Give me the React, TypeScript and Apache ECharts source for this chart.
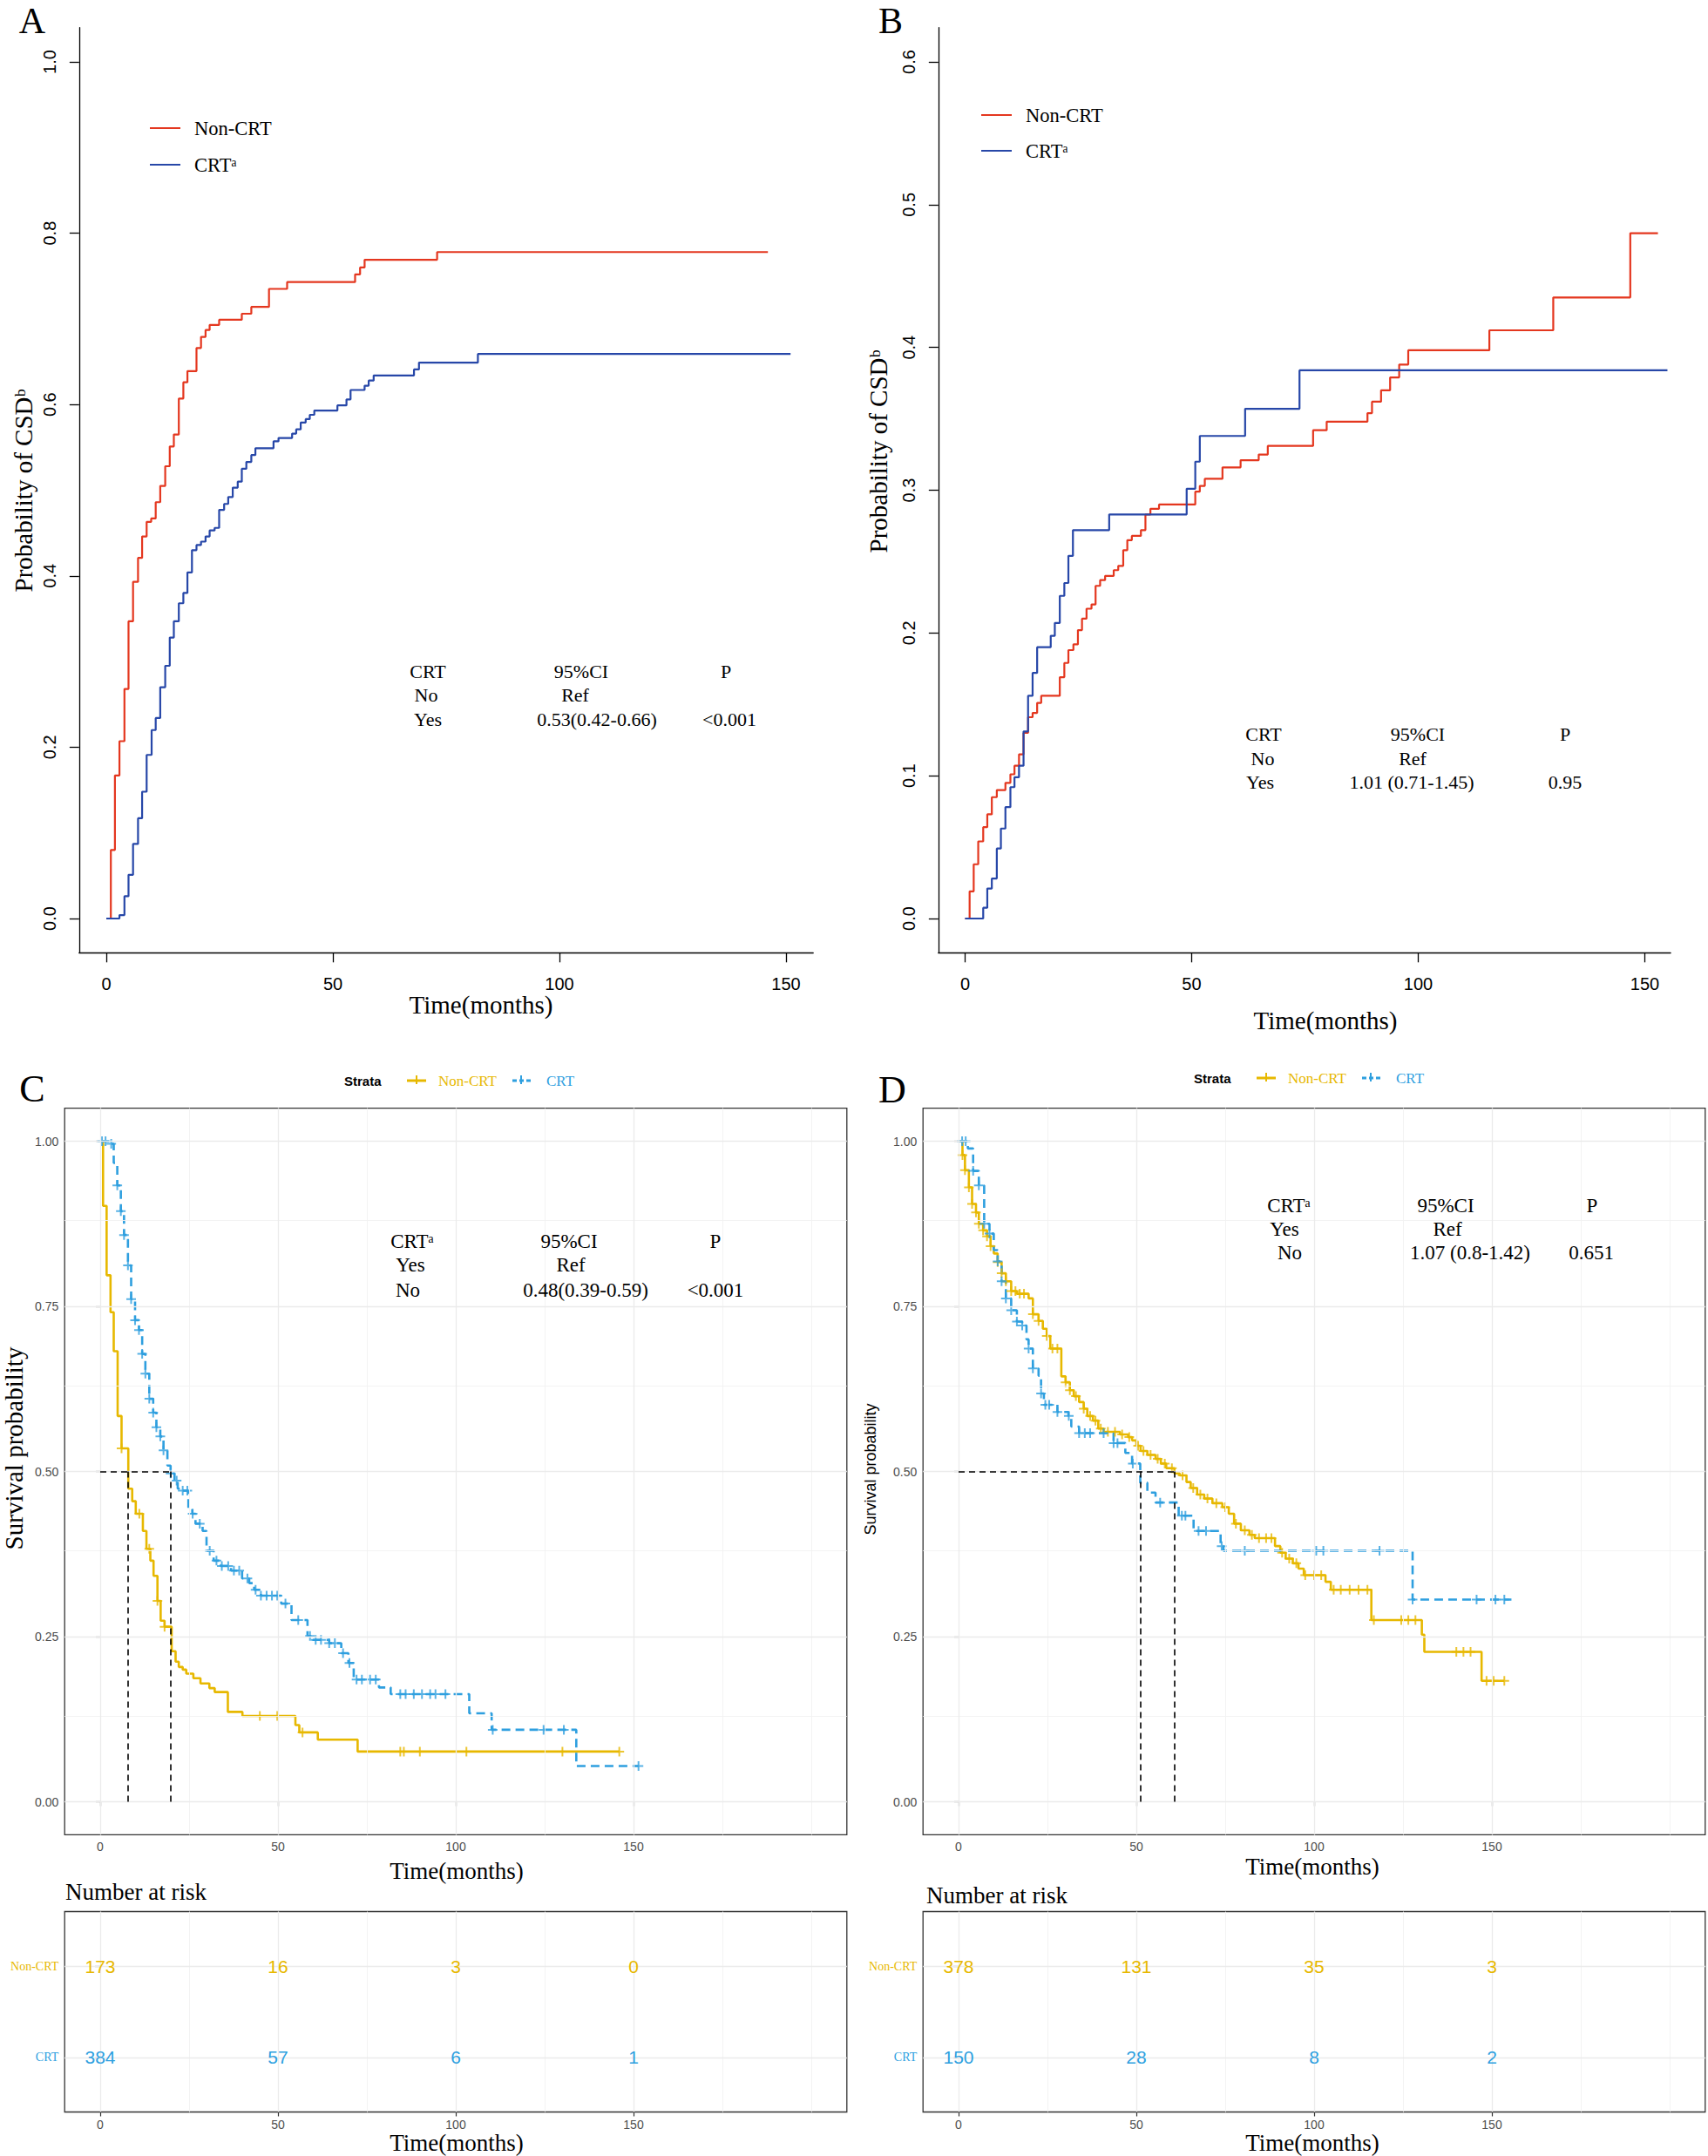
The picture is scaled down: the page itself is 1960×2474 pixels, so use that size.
import React, { useEffect, useRef } from "react";
import * as echarts from "echarts";

const W = 1960;
const H = 2474;
const RED = "#E4371F";
const NAVY = "#2747A8";
const GOLD = "#E7B800";
const SKY = "#2E9FDF";
const SERIF = '"Liberation Serif", "Times New Roman", "DejaVu Serif", serif';
const SANS = '"Liberation Sans", Arial, "DejaVu Sans", sans-serif';

// ---------- tick values ----------
const X_TICKS = [0, 50, 100, 150];
const A_Y_TICKS = [0, 0.2, 0.4, 0.6, 0.8, 1.0];
const B_Y_TICKS = [0, 0.1, 0.2, 0.3, 0.4, 0.5, 0.6];
const KM_Y_TICKS = [0, 0.25, 0.5, 0.75, 1];
const GRID_X_MAJOR = [0, 50, 100, 150];
const GRID_X_MINOR = [25, 75, 125, 175, 200];
const GRID_Y_MAJOR = [0, 0.25, 0.5, 0.75, 1];
const GRID_Y_MINOR = [0.125, 0.375, 0.625, 0.875];

// ---------- Panel A: cumulative incidence of CSD ----------
const A_NON_T = [0, 1, 1.9, 2.9, 4.0, 4.9, 5.9, 7.0, 7.9, 8.9, 9.9, 10.9, 11.9, 13.0, 14.0, 14.9, 16.0, 17.0, 17.9, 19.9, 20.9, 21.9, 22.8, 24.9, 29.9, 32.0, 35.9, 39.9, 54.9, 56.0, 57.0, 73.0, 146];
const A_NON_P = [0, 0.080, 0.167, 0.207, 0.268, 0.347, 0.393, 0.421, 0.446, 0.463, 0.467, 0.486, 0.505, 0.528, 0.551, 0.565, 0.607, 0.626, 0.639, 0.666, 0.679, 0.687, 0.693, 0.699, 0.706, 0.714, 0.735, 0.743, 0.752, 0.760, 0.769, 0.778, 0.778];
const A_CRT_T = [0, 2.9, 4.0, 4.9, 5.9, 7.0, 7.9, 8.9, 10.0, 10.9, 11.9, 13.0, 14.0, 14.9, 16.0, 17.0, 17.9, 18.9, 19.9, 20.9, 21.9, 22.8, 23.9, 24.9, 26.0, 26.9, 27.9, 29.0, 29.9, 30.9, 32.0, 32.9, 36.9, 38.0, 41.0, 41.9, 42.9, 44.0, 44.9, 45.9, 51.0, 53.0, 53.9, 57.0, 57.9, 59.0, 67.9, 69.0, 82.0, 151];
const A_CRT_P = [0, 0.004, 0.026, 0.051, 0.087, 0.117, 0.148, 0.191, 0.220, 0.234, 0.270, 0.295, 0.328, 0.347, 0.368, 0.380, 0.404, 0.430, 0.436, 0.440, 0.446, 0.453, 0.456, 0.477, 0.484, 0.492, 0.503, 0.510, 0.525, 0.533, 0.541, 0.549, 0.557, 0.561, 0.566, 0.571, 0.579, 0.583, 0.588, 0.593, 0.599, 0.606, 0.617, 0.622, 0.628, 0.634, 0.641, 0.649, 0.659, 0.659];

// ---------- Panel B ----------
const B_NON_T = [0, 1.0, 1.9, 2.9, 4.0, 4.9, 5.9, 7.0, 8.9, 10.0, 10.9, 11.9, 12.9, 13.9, 14.9, 15.9, 16.8, 20.9, 21.9, 22.8, 23.9, 24.9, 25.8, 26.8, 27.9, 28.8, 29.8, 30.9, 32.8, 33.8, 34.9, 35.8, 36.8, 38.8, 39.8, 40.9, 42.8, 50.8, 51.8, 52.9, 56.8, 60.8, 64.8, 66.8, 76.8, 79.8, 88.8, 89.8, 91.8, 93.8, 95.8, 97.8, 115.7, 129.8, 146.8, 152.9];
const B_NON_P = [0, 0.019, 0.038, 0.054, 0.064, 0.073, 0.085, 0.090, 0.095, 0.101, 0.107, 0.115, 0.130, 0.141, 0.144, 0.151, 0.156, 0.169, 0.179, 0.188, 0.192, 0.202, 0.210, 0.217, 0.220, 0.233, 0.237, 0.240, 0.244, 0.247, 0.258, 0.265, 0.268, 0.272, 0.283, 0.287, 0.290, 0.299, 0.303, 0.308, 0.316, 0.321, 0.325, 0.331, 0.342, 0.348, 0.354, 0.362, 0.370, 0.379, 0.388, 0.398, 0.412, 0.435, 0.480, 0.480];
const B_CRT_T = [0, 4.0, 4.9, 5.9, 7.0, 7.9, 8.9, 10.0, 10.9, 11.9, 12.9, 13.9, 14.9, 15.9, 18.9, 19.8, 20.9, 21.9, 22.8, 23.8, 31.8, 48.9, 50.8, 51.8, 61.8, 73.8, 155];
const B_CRT_P = [0, 0.0075, 0.021, 0.028, 0.049, 0.063, 0.078, 0.092, 0.099, 0.107, 0.131, 0.156, 0.172, 0.190, 0.198, 0.207, 0.226, 0.235, 0.254, 0.272, 0.283, 0.301, 0.320, 0.338, 0.357, 0.384, 0.384];

// ---------- Panel C: survival ----------
const C_NON_T = [0, 0.8, 1.8, 2.9, 3.8, 4.9, 6.0, 7.9, 9.0, 10.0, 12.0, 13.0, 14.1, 15.0, 16.1, 17.0, 18.1, 20.1, 21.2, 22.1, 23.2, 24.2, 26.2, 28.2, 30.7, 32.2, 35.9, 40.0, 54.9, 56.0, 61.2, 72.4, 146];
const C_NON_S = [1, 0.902, 0.797, 0.741, 0.682, 0.584, 0.535, 0.474, 0.455, 0.436, 0.410, 0.383, 0.365, 0.342, 0.304, 0.274, 0.265, 0.228, 0.212, 0.204, 0.200, 0.194, 0.187, 0.179, 0.172, 0.166, 0.136, 0.130, 0.116, 0.105, 0.094, 0.076, 0.076];
const C_CRT_T = [0, 3.1, 3.8, 4.8, 5.8, 6.7, 7.8, 8.7, 9.8, 10.9, 11.8, 12.7, 13.8, 14.9, 15.8, 16.9, 17.8, 18.9, 19.8, 20.9, 21.8, 23.0, 24.8, 25.9, 26.8, 28.8, 29.9, 31.9, 33.9, 36.8, 39.9, 41.9, 43.3, 45.2, 50.9, 53.8, 58.3, 59.8, 64.4, 67.8, 69.8, 71.3, 78.4, 81.7, 103.8, 110.1, 133.9, 151.4];
const C_CRT_S = [1, 0.996, 0.967, 0.933, 0.894, 0.858, 0.812, 0.761, 0.729, 0.714, 0.678, 0.648, 0.610, 0.589, 0.567, 0.553, 0.532, 0.509, 0.497, 0.486, 0.474, 0.471, 0.444, 0.436, 0.421, 0.410, 0.380, 0.365, 0.357, 0.350, 0.338, 0.331, 0.321, 0.312, 0.300, 0.275, 0.251, 0.245, 0.240, 0.225, 0.210, 0.185, 0.173, 0.163, 0.134, 0.109, 0.054, 0.054];
const C_NON_CENS = [6.0, 11.0, 13.8, 16.1, 18.1, 44.9, 49.8, 56.9, 84.4, 85.4, 89.9, 103, 130, 146];
const C_CRT_CENS = [0.5, 1.5, 3.1, 4.8, 5.8, 6.7, 7.8, 8.7, 9.8, 10.9, 11.8, 12.7, 13.8, 14.9, 15.8, 16.9, 17.8, 19.8, 21.5, 23.2, 24.5, 26.0, 28.0, 30.8, 32.7, 34.2, 36.0, 37.6, 39.1, 41.4, 43.7, 45.2, 46.8, 48.3, 49.8, 52.1, 55.7, 59.0, 60.6, 62.1, 64.4, 66.0, 68.3, 70.1, 72.1, 73.6, 75.9, 77.5, 84.4, 85.9, 88.2, 90.5, 92.8, 94.3, 97.1, 110.4, 124.7, 130.4, 151.4];

// ---------- Panel D ----------
const D_NON_T = [0, 1.1, 1.8, 2.9, 3.8, 4.9, 5.7, 6.9, 8.0, 9.0, 9.9, 11.0, 12.1, 13.3, 14.8, 16.4, 19.7, 20.9, 22.5, 23.7, 24.8, 25.8, 28.9, 30.1, 31.3, 32.4, 33.9, 35.2, 36.2, 37.8, 39.3, 40.8, 45.4, 47.7, 48.8, 50.0, 51.2, 53.1, 55.4, 56.9, 58.4, 60.7, 62.2, 64.1, 65.3, 67.1, 69.1, 71.4, 74.2, 76.0, 77.5, 79.4, 81.8, 83.3, 89.0, 90.5, 92.0, 94.0, 95.6, 97.1, 103.2, 104.7, 116.1, 130.3, 131.0, 147.1, 153.5];
const D_NON_S = [1, 0.979, 0.956, 0.930, 0.905, 0.892, 0.875, 0.865, 0.856, 0.841, 0.830, 0.817, 0.800, 0.788, 0.773, 0.769, 0.762, 0.738, 0.728, 0.716, 0.705, 0.686, 0.644, 0.635, 0.623, 0.614, 0.605, 0.595, 0.584, 0.577, 0.565, 0.560, 0.556, 0.552, 0.547, 0.539, 0.531, 0.525, 0.519, 0.512, 0.505, 0.497, 0.494, 0.484, 0.475, 0.465, 0.459, 0.452, 0.446, 0.436, 0.421, 0.411, 0.404, 0.399, 0.387, 0.377, 0.368, 0.361, 0.353, 0.343, 0.333, 0.321, 0.275, 0.253, 0.227, 0.183, 0.183];
const D_CRT_T = [0, 2.6, 4.1, 5.7, 7.2, 8.7, 9.9, 11.0, 12.1, 13.3, 14.8, 16.4, 17.9, 19.1, 19.7, 20.9, 22.5, 23.2, 24.0, 27.8, 30.9, 31.7, 33.9, 43.6, 46.9, 48.8, 51.1, 53.1, 55.4, 61.9, 66.1, 73.7, 74.5, 127.7, 155.5];
const D_CRT_S = [1, 0.989, 0.955, 0.933, 0.875, 0.860, 0.835, 0.818, 0.788, 0.762, 0.744, 0.727, 0.721, 0.700, 0.686, 0.656, 0.645, 0.618, 0.601, 0.590, 0.584, 0.568, 0.558, 0.543, 0.528, 0.512, 0.483, 0.468, 0.453, 0.433, 0.410, 0.387, 0.380, 0.306, 0.306];
const D_NON_CENS = [1.1, 1.8, 2.9, 3.8, 4.9, 5.7, 6.9, 8.0, 9.0, 11.0, 12.1, 13.3, 14.8, 16.0, 17.2, 18.4, 20.9, 22.5, 24.8, 26.4, 27.8, 30.1, 31.3, 33.0, 35.2, 37.0, 38.5, 40.0, 42.0, 44.0, 46.0, 48.0, 50.5, 52.0, 54.0, 56.0, 58.0, 60.0, 63.0, 66.0, 68.0, 70.0, 72.5, 75.0, 78.0, 80.5, 82.5, 84.5, 86.5, 88.0, 91.0, 93.0, 95.0, 97.5, 100.0, 102.0, 105.5, 107.5, 110.0, 112.5, 115.0, 116.8, 124.5, 126.5, 128.5, 140.0, 142.0, 144.0, 148.5, 150.5, 153.5];
const D_CRT_CENS = [1.0, 2.0, 4.1, 5.7, 7.2, 8.7, 11.0, 12.1, 13.3, 14.8, 16.4, 17.9, 19.7, 20.9, 23.2, 24.4, 25.5, 27.8, 31.0, 33.9, 35.5, 37.0, 40.8, 43.6, 44.7, 49.0, 56.7, 62.8, 63.8, 67.5, 69.6, 74.0, 80.5, 100.6, 102.6, 118.4, 127.7, 145.7, 151.0, 153.5];

// ---------- risk tables ----------
const RISK_TIMES = [0, 50, 100, 150];
const C_RISK_NON = [173, 16, 3, 0];
const C_RISK_CRT = [384, 57, 6, 1];
const D_RISK_NON = [378, 131, 35, 3];
const D_RISK_CRT = [150, 28, 8, 2];

const PLUS = "path://M0,5L10,5M5,0L5,10";

function pairs(t: number[], v: number[]) {
  return t.map((x, i) => [x, v[i]]);
}
function valueAt(t: number[], v: number[], x: number) {
  let y = v[0];
  for (let i = 0; i < t.length; i++) if (t[i] <= x) y = v[i];
  return y;
}
function median(t: number[], s: number[]) {
  for (let i = 0; i < t.length; i++) if (s[i] <= 0.5) return t[i];
  return t[t.length - 1];
}

function stepSeries(gi: number, t: number[], v: number[], color: string, width: number, dashed = false) {
  return {
    type: "line",
    xAxisIndex: gi,
    yAxisIndex: gi,
    data: pairs(t, v),
    step: "end",
    symbol: "none",
    showSymbol: false,
    silent: true,
    z: 3,
    lineStyle: { color, width, type: dashed ? [10, 6] : "solid", cap: "butt" },
  };
}
function censorSeries(gi: number, t: number[], v: number[], cens: number[], color: string) {
  return {
    type: "scatter",
    xAxisIndex: gi,
    yAxisIndex: gi,
    data: cens.map((c) => [c, valueAt(t, v, c)]),
    symbol: PLUS,
    symbolSize: 11,
    silent: true,
    z: 4,
    itemStyle: { color: "rgba(0,0,0,0)", borderColor: color, borderWidth: 2 },
  };
}
function gridLineSeries(gi: number, yMajor: number[], yMinor: number[]) {
  const major = { color: "#EBEBEB", width: 1.3, type: "solid" };
  const minor = { color: "#F2F2F2", width: 0.9, type: "solid" };
  return {
    type: "line",
    xAxisIndex: gi,
    yAxisIndex: gi,
    data: [[0, yMajor[0]]],
    symbol: "none",
    lineStyle: { width: 0, opacity: 0 },
    silent: true,
    z: 1,
    markLine: {
      silent: true,
      animation: false,
      symbol: ["none", "none"],
      label: { show: false },
      lineStyle: { type: "solid" },
      emphasis: { disabled: true },
      data: [
        ...GRID_X_MINOR.map((v) => ({ xAxis: v, lineStyle: minor })),
        ...yMinor.map((v) => ({ yAxis: v, lineStyle: minor })),
        ...GRID_X_MAJOR.map((v) => ({ xAxis: v, lineStyle: major })),
        ...yMajor.map((v) => ({ yAxis: v, lineStyle: major })),
      ],
    },
  };
}
function medianSeries(gi: number, m1: number, m2: number) {
  const hi = Math.max(m1, m2);
  return {
    type: "line",
    xAxisIndex: gi,
    yAxisIndex: gi,
    data: [[0, 0.5]],
    symbol: "none",
    lineStyle: { width: 0, opacity: 0 },
    silent: true,
    z: 5,
    markLine: {
      silent: true,
      animation: false,
      symbol: ["none", "none"],
      label: { show: false },
      emphasis: { disabled: true },
      lineStyle: { color: "#000", width: 1.6, type: [7, 5] },
      data: [
        [{ coord: [0, 0.5] }, { coord: [hi, 0.5] }],
        [{ coord: [m1, 0] }, { coord: [m1, 0.5] }],
        [{ coord: [m2, 0] }, { coord: [m2, 0.5] }],
      ],
    },
  };
}
function riskSeries(gi: number, row: number, counts: number[], color: string) {
  return {
    type: "scatter",
    xAxisIndex: gi,
    yAxisIndex: gi,
    data: RISK_TIMES.map((t, i) => [t, row, counts[i]]),
    symbol: "circle",
    symbolSize: 0.1,
    silent: true,
    z: 8,
    itemStyle: { color, opacity: 1 },
    label: {
      show: true,
      position: "inside",
      formatter: (p: any) => String(p.value[2]),
      color,
      opacity: 1,
      textBorderWidth: 0,
      fontFamily: SANS,
      fontSize: 21,
    },
  };
}

// ---------- axes ----------
function rX(gi: number, min: number, max: number) {
  return {
    type: "value",
    gridIndex: gi,
    min,
    max,
    axisLine: { show: true, onZero: false, lineStyle: { color: "#000", width: 1.3 } },
    axisTick: { show: true, customValues: X_TICKS, length: 11, lineStyle: { color: "#000", width: 1.3 } },
    axisLabel: { show: true, customValues: X_TICKS, fontFamily: SANS, fontSize: 20, color: "#000", margin: 26 },
    splitLine: { show: false },
  };
}
function rY(gi: number, min: number, max: number, ticks: number[]) {
  return {
    type: "value",
    gridIndex: gi,
    min,
    max,
    axisLine: { show: true, onZero: false, lineStyle: { color: "#000", width: 1.3 } },
    axisTick: { show: true, customValues: ticks, length: 11, lineStyle: { color: "#000", width: 1.3 } },
    axisLabel: {
      show: true,
      customValues: ticks,
      rotate: 90,
      formatter: (v: number) => v.toFixed(1),
      fontFamily: SANS,
      fontSize: 20,
      color: "#000",
      margin: 24,
    },
    splitLine: { show: false },
  };
}
function gX(gi: number) {
  return {
    type: "value",
    gridIndex: gi,
    min: -10,
    max: 210,
    axisLine: { show: false },
    axisTick: { show: true, customValues: X_TICKS, length: 5, lineStyle: { color: "#333", width: 1.2 } },
    axisLabel: { show: true, customValues: X_TICKS, fontFamily: SANS, fontSize: 14, color: "#4D4D4D", margin: 7 },
    splitLine: { show: false },
  };
}
function gY(gi: number) {
  return {
    type: "value",
    gridIndex: gi,
    min: -0.05,
    max: 1.05,
    axisLine: { show: false },
    axisTick: { show: true, customValues: KM_Y_TICKS, length: 5, lineStyle: { color: "#333", width: 1.2 } },
    axisLabel: {
      show: true,
      customValues: KM_Y_TICKS,
      formatter: (v: number) => v.toFixed(2),
      fontFamily: SANS,
      fontSize: 14,
      color: "#4D4D4D",
      margin: 7,
    },
    splitLine: { show: false },
  };
}
function riskY(gi: number) {
  return {
    type: "value",
    gridIndex: gi,
    min: 0.4,
    max: 2.6,
    axisLine: { show: false },
    axisTick: { show: true, customValues: [1, 2], length: 6, lineStyle: { color: "#333", width: 1.2 } },
    axisLabel: {
      show: true,
      customValues: [1, 2],
      formatter: (v: number) => (v === 2 ? "{g|Non-CRT}" : "{b|CRT}"),
      margin: 7,
      rich: {
        g: { color: GOLD, fontFamily: SERIF, fontSize: 14 },
        b: { color: SKY, fontFamily: SERIF, fontSize: 14 },
      },
    },
    splitLine: { show: false },
  };
}

// ---------- graphic helpers ----------
function txt(text: string, x: number, y: number, o: any = {}) {
  return {
    type: "text",
    x,
    y,
    rotation: o.rot || 0,
    silent: true,
    z: 10,
    style: {
      text,
      fill: o.color || "#000",
      fontFamily: o.family || SERIF,
      fontSize: o.size || 22,
      fontWeight: o.weight || "normal",
      textAlign: o.align || "center",
      textVerticalAlign: "middle",
      verticalAlign: "middle",
    },
  };
}
function seg(x1: number, y1: number, x2: number, y2: number, color: string, w: number, dash?: number[]) {
  return {
    type: "line",
    silent: true,
    z: 10,
    shape: { x1, y1, x2, y2 },
    style: { stroke: color, lineWidth: w, lineDash: dash || null },
  };
}
function kmLegend(dx: number, y: number) {
  return [
    txt("Strata", 395 + dx, y, { family: SANS, size: 15, weight: "bold", align: "left" }),
    seg(467 + dx, y, 489 + dx, y, GOLD, 3),
    seg(478 + dx, y - 6, 478 + dx, y + 4, GOLD, 2),
    txt("Non-CRT", 503 + dx, y, { color: GOLD, size: 17, align: "left" }),
    seg(588 + dx, y, 609 + dx, y, SKY, 3, [5, 3]),
    seg(598 + dx, y - 6, 598 + dx, y + 4, SKY, 2),
    txt("CRT", 627 + dx, y, { color: SKY, size: 17, align: "left" }),
  ];
}

function buildOption() {
  const gridBox = { show: true, borderColor: "#333333", borderWidth: 1.3, backgroundColor: "#fff" };
  const common = { containLabel: false, outerBoundsMode: "none" };
  const grids = [
    { ...common, left: 90.8, top: 31.7, width: 842.4, height: 1061.6 },
    { ...common, left: 1076.8, top: 31.7, width: 840.3, height: 1061.6 },
    { ...common, ...gridBox, left: 74.2, top: 1271.6, width: 897.6, height: 833.8 },
    { ...common, ...gridBox, left: 1059.2, top: 1271.6, width: 897.6, height: 833.8 },
    { ...common, ...gridBox, left: 74.2, top: 2193.5, width: 897.6, height: 230 },
    { ...common, ...gridBox, left: 1059.2, top: 2193.5, width: 897.6, height: 230 },
  ];
  const xAxis = [rX(0, -6, 156), rX(1, -5.9, 155.7), gX(2), gX(3), gX(4), gX(5)];
  const yAxis = [rY(0, -0.04, 1.04, A_Y_TICKS), rY(1, -0.024, 0.624, B_Y_TICKS), gY(2), gY(3), riskY(4), riskY(5)];

  const series: any[] = [
    stepSeries(0, A_NON_T, A_NON_P, RED, 2.2),
    stepSeries(0, A_CRT_T, A_CRT_P, NAVY, 2.2),
    stepSeries(1, B_NON_T, B_NON_P, RED, 2.2),
    stepSeries(1, B_CRT_T, B_CRT_P, NAVY, 2.2),

    gridLineSeries(2, GRID_Y_MAJOR, GRID_Y_MINOR),
    stepSeries(2, C_NON_T, C_NON_S, GOLD, 2.6),
    stepSeries(2, C_CRT_T, C_CRT_S, SKY, 2.6, true),
    censorSeries(2, C_NON_T, C_NON_S, C_NON_CENS, GOLD),
    censorSeries(2, C_CRT_T, C_CRT_S, C_CRT_CENS, SKY),
    medianSeries(2, median(C_NON_T, C_NON_S), median(C_CRT_T, C_CRT_S)),

    gridLineSeries(3, GRID_Y_MAJOR, GRID_Y_MINOR),
    stepSeries(3, D_NON_T, D_NON_S, GOLD, 2.6),
    stepSeries(3, D_CRT_T, D_CRT_S, SKY, 2.6, true),
    censorSeries(3, D_NON_T, D_NON_S, D_NON_CENS, GOLD),
    censorSeries(3, D_CRT_T, D_CRT_S, D_CRT_CENS, SKY),
    medianSeries(3, median(D_CRT_T, D_CRT_S), median(D_NON_T, D_NON_S)),

    gridLineSeries(4, [1, 2], []),
    riskSeries(4, 2, C_RISK_NON, GOLD),
    riskSeries(4, 1, C_RISK_CRT, SKY),
    gridLineSeries(5, [1, 2], []),
    riskSeries(5, 2, D_RISK_NON, GOLD),
    riskSeries(5, 1, D_RISK_CRT, SKY),
  ];

  const graphic: any[] = [
    // panel letters
    txt("A", 37, 24, { size: 42 }),
    txt("B", 1022, 24, { size: 42 }),
    txt("C", 37, 1249, { size: 44 }),
    txt("D", 1024, 1250, { size: 44 }),

    // axis titles A/B
    txt("Probability of CSDᵇ", 27, 563, { size: 29, rot: Math.PI / 2 }),
    txt("Time(months)", 552, 1153, { size: 29 }),
    txt("Probability of CSDᵇ", 1008, 518, { size: 29, rot: Math.PI / 2 }),
    txt("Time(months)", 1521, 1171, { size: 29 }),

    // legends A/B
    seg(172, 147, 207, 147, RED, 2.2),
    txt("Non-CRT", 223, 147, { size: 22.5, align: "left" }),
    seg(172, 189, 207, 189, NAVY, 2.2),
    txt("CRTᵃ", 223, 189, { size: 22.5, align: "left" }),
    seg(1126, 132, 1161, 132, RED, 2.2),
    txt("Non-CRT", 1177, 132, { size: 22.5, align: "left" }),
    seg(1126, 173, 1161, 173, NAVY, 2.2),
    txt("CRTᵃ", 1177, 173, { size: 22.5, align: "left" }),

    // stats A
    txt("CRT", 491, 770), txt("No", 489, 797), txt("Yes", 491, 825),
    txt("95%CI", 667, 770), txt("Ref", 660, 797), txt("0.53(0.42-0.66)", 685, 825),
    txt("P", 833, 770), txt("<0.001", 837, 825),
    // stats B
    txt("CRT", 1450, 842), txt("No", 1449, 870), txt("Yes", 1446, 897),
    txt("95%CI", 1627, 842), txt("Ref", 1621, 870), txt("1.01 (0.71-1.45)", 1620, 897),
    txt("P", 1796, 842), txt("0.95", 1796, 897),
    // stats C
    txt("CRTᵃ", 473, 1424, { size: 23 }), txt("Yes", 471, 1451, { size: 23 }), txt("No", 468, 1480, { size: 23 }),
    txt("95%CI", 653, 1424, { size: 23 }), txt("Ref", 655, 1451, { size: 23 }), txt("0.48(0.39-0.59)", 672, 1480, { size: 23 }),
    txt("P", 821, 1424, { size: 23 }), txt("<0.001", 821, 1480, { size: 23 }),
    // stats D
    txt("CRTᵃ", 1479, 1383, { size: 23 }), txt("Yes", 1474, 1410, { size: 23 }), txt("No", 1480, 1437, { size: 23 }),
    txt("95%CI", 1659, 1383, { size: 23 }), txt("Ref", 1661, 1410, { size: 23 }), txt("1.07 (0.8-1.42)", 1687, 1437, { size: 23 }),
    txt("P", 1827, 1383, { size: 23 }), txt("0.651", 1826, 1437, { size: 23 }),

    // KM legends
    ...kmLegend(0, 1240),
    ...kmLegend(975, 1237),

    // titles C/D
    txt("Survival probability", 16, 1662, { size: 29, rot: Math.PI / 2 }),
    txt("Survival probability", 999, 1686, { size: 18, family: SANS, rot: Math.PI / 2 }),
    txt("Time(months)", 524, 2147, { size: 27 }),
    txt("Time(months)", 1506, 2142, { size: 27 }),
    txt("Number at risk", 75, 2171, { size: 27, align: "left" }),
    txt("Number at risk", 1063, 2175, { size: 27, align: "left" }),
    txt("Time(months)", 524, 2459, { size: 27 }),
    txt("Time(months)", 1506, 2459, { size: 27 }),
  ];

  return {
    animation: false,
    backgroundColor: "#ffffff",
    grid: grids,
    xAxis,
    yAxis,
    series,
    graphic,
  };
}

export default function App() {
  const ref = useRef<HTMLDivElement>(null);
  useEffect(() => {
    if (!ref.current) return;
    const chart = echarts.init(ref.current, null, { renderer: "svg", width: W, height: H });
    chart.setOption(buildOption() as any);
    return () => chart.dispose();
  }, []);
  return (
    <div
      ref={ref}
      style={{ position: "absolute", left: 0, top: 0, width: W, height: H, background: "#fff" }}
    />
  );
}
